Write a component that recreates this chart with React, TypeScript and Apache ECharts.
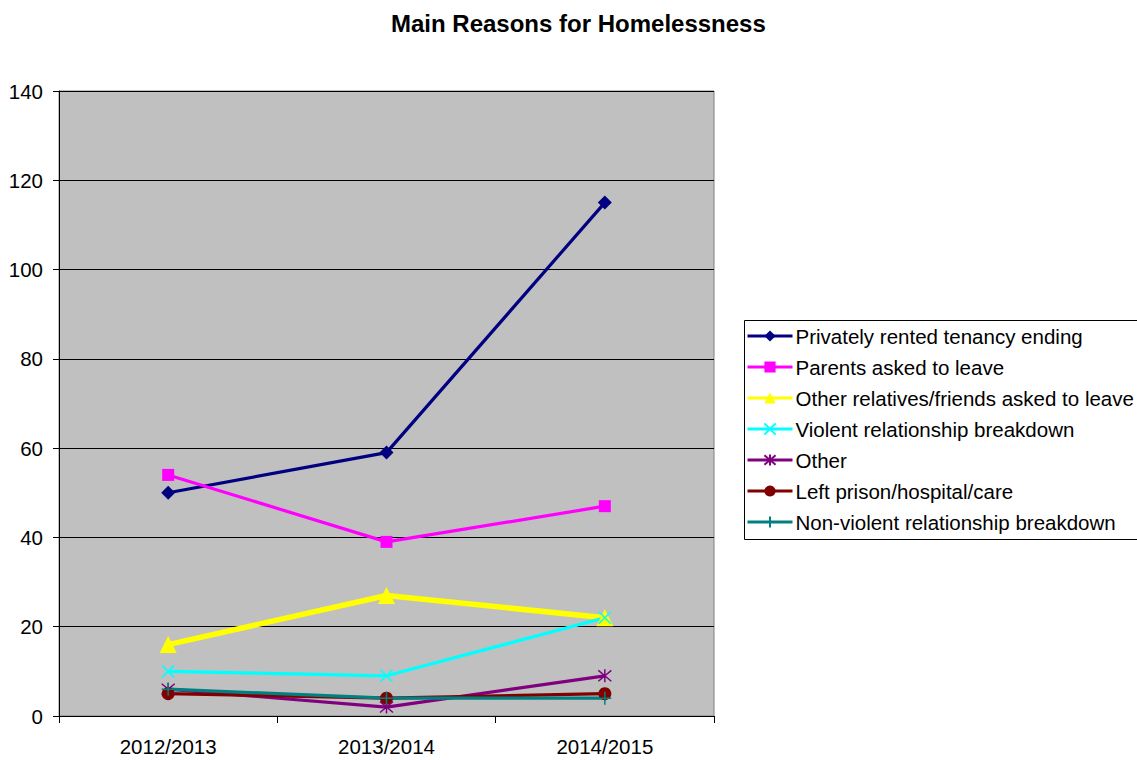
import React, { useEffect, useRef } from "react";
import * as echarts from "echarts";

const categories = ["2012/2013", "2013/2014", "2014/2015"];
const privatelyRented = [50, 59, 115];
const parentsAsked = [54, 39, 47];
const otherRelatives = [16, 27, 22];
const violentBreakdown = [10, 9, 22];
const other = [6, 2, 9];
const leftPrison = [5, 4, 5];
const nonViolentBreakdown = [6, 4, 4];

const FONT = 'Arial, "Liberation Sans", sans-serif';

const X_PATH = "path://M0,0L10,10M10,0L0,10";
const STAR_PATH = "path://M0,0L10,10M10,0L0,10M5,-1L5,11";
const PLUS_PATH = "path://M5,0L5,12M1,6L9,6";

export default function App() {
  const ref = useRef<HTMLDivElement>(null);
  useEffect(() => {
    if (!ref.current) return;
    const chart = echarts.init(ref.current, null, { renderer: "svg" });
    const mk = (
      name: string,
      data: number[],
      color: string,
      symbol: string,
      symbolSize: number,
      width: number,
      stroke: boolean
    ) => ({
      name,
      type: "line",
      data,
      symbol,
      symbolSize,
      showAllSymbol: true,
      lineStyle: { color, width },
      itemStyle: stroke
        ? { color, borderColor: color, borderWidth: 1.5 }
        : { color, borderWidth: 0 },
      emphasis: { disabled: true },
    });
    chart.setOption({
      animation: false,
      title: {
        text: "Main Reasons for Homelessness",
        left: 386,
        top: 6,
        textStyle: { fontFamily: FONT, fontSize: 24, fontWeight: "bold", color: "#000" },
      },
      graphic: [
        {
          type: "rect",
          left: 742,
          top: 318,
          shape: { width: 420, height: 219 },
          style: { fill: "none", stroke: "#000", lineWidth: 1 },
          silent: true,
        },
      ],
      grid: {
        left: 59,
        top: 91,
        width: 655,
        height: 625,
        show: true,
        backgroundColor: "#C0C0C0",
        borderColor: "#808080",
        borderWidth: 1,
      },
      legend: {
        orient: "vertical",
        left: 742,
        top: 318,
        padding: [7, 6, 7, 4],
        borderWidth: 0,
        itemWidth: 45,
        itemHeight: 14,
        itemGap: 9,
        lineStyle: { width: 3 },
        textStyle: { fontFamily: FONT, fontSize: 20.5, color: "#000", lineHeight: 22, padding: [0, 0, 0, -2] },
        data: [
          "Privately rented tenancy ending",
          "Parents asked to leave",
          "Other relatives/friends asked to leave",
          "Violent relationship breakdown",
          "Other",
          "Left prison/hospital/care",
          "Non-violent relationship breakdown",
        ],
      },
      xAxis: {
        type: "category",
        data: categories,
        boundaryGap: true,
        axisLine: { lineStyle: { color: "#000", width: 1 } },
        axisTick: { show: true, length: 7, lineStyle: { color: "#000" } },
        axisLabel: { fontFamily: FONT, fontSize: 20.5, color: "#000", margin: 20 },
      },
      yAxis: {
        type: "value",
        min: 0,
        max: 140,
        interval: 20,
        axisLine: { show: true, lineStyle: { color: "#000", width: 1 } },
        axisTick: { show: true, length: 6, lineStyle: { color: "#000" } },
        axisLabel: { fontFamily: FONT, fontSize: 20.5, color: "#000", margin: 16 },
        splitLine: { show: true, lineStyle: { color: "#000", width: 1 } },
      },
      series: [
        mk("Privately rented tenancy ending", privatelyRented, "#000080", "diamond", 14, 3.2, false),
        mk("Parents asked to leave", parentsAsked, "#FF00FF", "rect", 12, 3.2, false),
        mk("Other relatives/friends asked to leave", otherRelatives, "#FFFF00", "triangle", 17, 5.5, false),
        mk("Violent relationship breakdown", violentBreakdown, "#00FFFF", X_PATH, 12, 3.2, true),
        mk("Other", other, "#800080", STAR_PATH, 13, 3.2, true),
        mk("Left prison/hospital/care", leftPrison, "#800000", "circle", 13, 3.2, false),
        mk("Non-violent relationship breakdown", nonViolentBreakdown, "#008080", PLUS_PATH, 13, 3.2, true),
      ],
    });
    return () => chart.dispose();
  }, []);
  return (
    <div
      ref={ref}
      style={{ position: "absolute", left: 0, top: 0, width: 1137, height: 760 }}
    />
  );
}
